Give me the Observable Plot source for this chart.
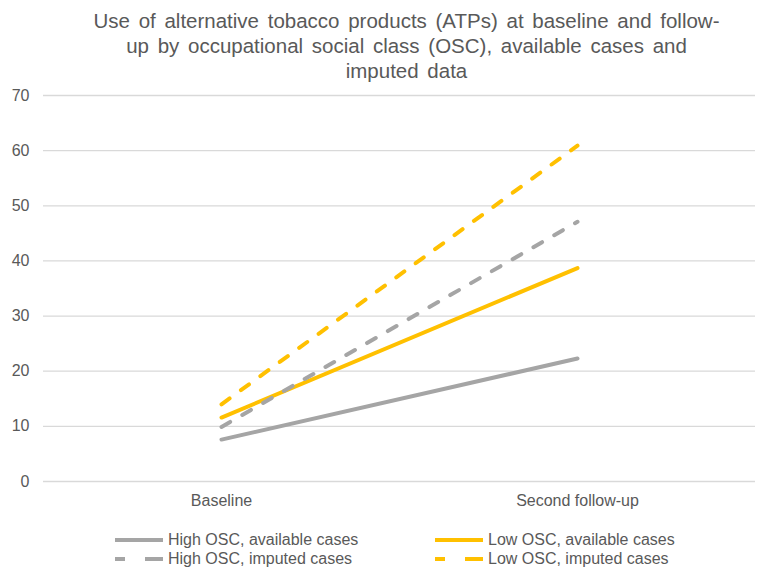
<!DOCTYPE html>
<html>
<head>
<meta charset="utf-8">
<script src="https://cdn.jsdelivr.net/npm/d3@7"></script>
<script src="https://cdn.jsdelivr.net/npm/@observablehq/plot@0.6"></script>
<style>
  html, body { margin: 0; padding: 0; background: #fff; }
  body { width: 765px; height: 573px; overflow: hidden; font-family: "Liberation Sans", Arial, sans-serif; color: #595959; }
  #title { box-sizing: border-box; height: 85px; padding-top: 8px; padding-left: 48px; width: 765px; text-align: center; font-size: 20.5px; word-spacing: 3px; line-height: 25px; color: #595959; }
  #chart svg { display: block; }
  #legend { position: relative; height: 58px; font-size: 16px; color: #595959; }
  .item { position: absolute; display: flex; align-items: center; height: 19px; white-space: nowrap; }
  .item svg { display: block; margin-right: 5px; }
</style>
</head>
<body>
<div id="title">Use of alternative tobacco products (ATPs) at baseline and follow-<br>up by occupational social class (OSC), available cases and<br>imputed data</div>
<div id="chart"></div>
<div id="legend"></div>
<script>
const periods = ["Baseline", "Second follow-up"];
const seriesNames = ["High OSC, available cases", "Low OSC, available cases", "High OSC, imputed cases", "Low OSC, imputed cases"];
const highAvailable = [7.6, 22.3];
const lowAvailable = [11.6, 38.7];
const highImputed = [9.9, 47.1];
const lowImputed = [14.0, 60.9];
const yTicks = [0, 10, 20, 30, 40, 50, 60, 70];

const seriesValues = [highAvailable, lowAvailable, highImputed, lowImputed];
const seriesColor = ["#a5a5a5", "#ffc000", "#a5a5a5", "#ffc000"];
const seriesDashed = [false, false, true, true];

const rows = [];
seriesNames.forEach((name, i) => {
  periods.forEach((p, j) => rows.push({series: name, period: p, value: seriesValues[i][j]}));
});

const marks = [
  Plot.gridY(yTicks, {stroke: "#d9d9d9", strokeOpacity: 1, strokeWidth: 1.3}),
  Plot.axisY(yTicks, {tickSize: 0, tickPadding: 14, fontSize: 16, fill: "#595959", label: null}),
  Plot.axisX({tickSize: 0, tickPadding: 13, fontSize: 16, fill: "#595959", label: null})
];
seriesNames.forEach((name, i) => {
  marks.push(Plot.line(rows.filter(d => d.series === name), {
    x: "period", y: "value",
    stroke: seriesColor[i], strokeWidth: 4,
    strokeLinecap: "round",
    strokeDasharray: seriesDashed[i] ? "10,14" : null
  }));
});

const chart = Plot.plot({
  width: 765,
  height: 430,
  marginLeft: 43,
  marginRight: 10,
  marginTop: 10,
  marginBottom: 34,
  style: {fontFamily: "Liberation Sans, Arial, sans-serif", background: "#fff"},
  x: {type: "point", domain: periods, padding: 0.5, label: null},
  y: {domain: [0, 70], label: null},
  marks
});
document.getElementById("chart").appendChild(chart);

// Legend (Excel reading order: left column High, right column Low)
const legendPos = [
  {left: 115, top: 15}, {left: 435, top: 15},
  {left: 115, top: 34}, {left: 435, top: 34}
];
const legend = document.getElementById("legend");
seriesNames.forEach((name, i) => {
  const div = document.createElement("div");
  div.className = "item";
  div.style.left = legendPos[i].left + "px";
  div.style.top = legendPos[i].top + "px";
  const dash = seriesDashed[i] ? ' stroke-dasharray="10,20,18"' : '';
  div.innerHTML = `<svg width="48" height="8"><line x1="0" y1="4" x2="48" y2="4" stroke="${seriesColor[i]}" stroke-width="4"${dash}/></svg><span>${name}</span>`;
  legend.appendChild(div);
});
</script>
</body>
</html>
